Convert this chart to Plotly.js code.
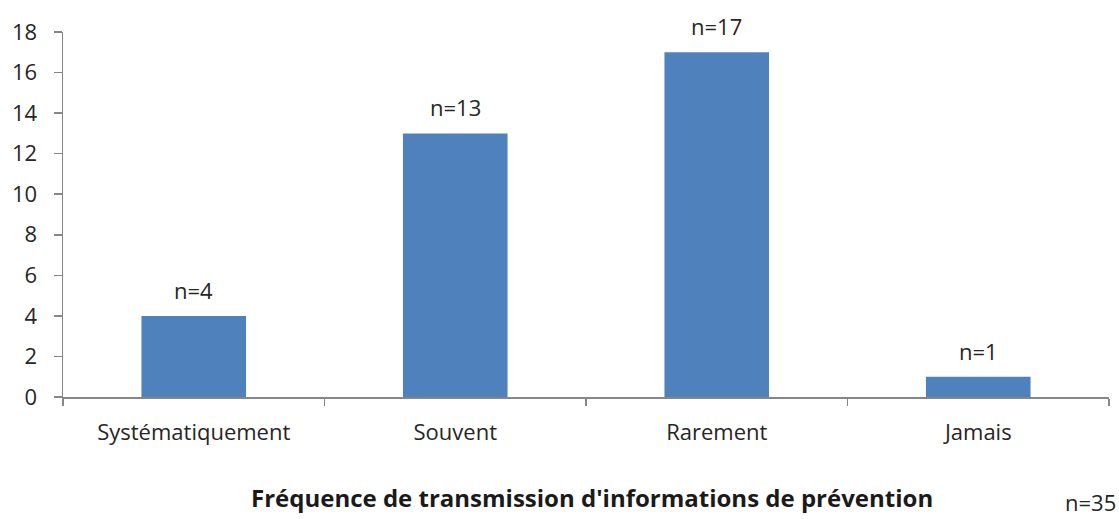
<!DOCTYPE html>
<html>
<head>
<meta charset="utf-8">
<script src="https://cdn.plot.ly/plotly-3.0.1.min.js"></script>
<style>html,body{margin:0;padding:0;background:#fff;}#chart{width:1119px;height:519px;}</style>
</head>
<body>
<div id="chart"></div>
<script>
var categories = ["Systématiquement", "Souvent", "Rarement", "Jamais"];
var counts = [4, 13, 17, 1];
var labels = ["n=4", "n=13", "n=17", "n=1"];
var yTicks = [0, 2, 4, 6, 8, 10, 12, 14, 16, 18];
var xTitle = "Fréquence de transmission d'informations de prévention";
var totalNote = "n=35";

var FONT = "'Open Sans', sans-serif";
var SZ = 22;
var annotations = categories.map(function (c, i) {
  return {x: c, y: counts[i], xref: "x", yref: "y", text: labels[i], showarrow: false,
    yanchor: "bottom", yshift: 9, font: {family: FONT, size: SZ, color: "#262626"}};
});
annotations.push({x: 0.5, y: 20, xref: "paper", yref: "paper", yanchor: "middle", xanchor: "center",
  text: "<b>" + xTitle + "</b>", showarrow: false, font: {family: FONT, size: 24, color: "#1a1a1a"}});
annotations.push({x: 1.0, y: 9, xref: "paper", yref: "paper", yanchor: "bottom", xanchor: "right",
  text: totalNote, showarrow: false, borderpad: 0, font: {family: FONT, size: SZ, color: "#262626"}});

var data = [{type: "bar", x: categories, y: counts, marker: {color: "#4F81BD"}, hoverinfo: "none"}];
var layout = {
  width: 1119, height: 519,
  margin: {l: 63, r: 10, t: 32, b: 122},
  paper_bgcolor: "#fff", plot_bgcolor: "#fff",
  bargap: 0.6,
  showlegend: false,
  font: {family: FONT, size: SZ, color: "#262626"},
  xaxis: {type: "category", showline: true, linecolor: "#868686", linewidth: 1.5,
    ticks: "outside", tickson: "boundaries", ticklen: 7, tickcolor: "#868686", tickwidth: 1.5,
    showgrid: false, zeroline: false, tickfont: {family: FONT, size: SZ, color: "#262626"},
    ticklabelstandoff: 15},
  yaxis: {range: [0, 18], tickvals: yTicks, showline: true, linecolor: "#868686", linewidth: 1.5,
    ticks: "outside", ticklen: 8, tickcolor: "#868686", tickwidth: 1.5, showgrid: false, zeroline: false,
    tickfont: {family: FONT, size: SZ, color: "#262626"}, ticklabelstandoff: 12},
  annotations: annotations
};
var plotH = 519 - 32 - 122;
var plotW = 1119 - 63 - 10;
layout.annotations[4].x = (592 - 63) / plotW;
layout.annotations[4].y = (397 - 498) / plotH;
layout.annotations[5].y = (397 - 518) / plotH;
layout.annotations[5].x = (1117 - 63) / plotW;
Plotly.newPlot("chart", data, layout, {staticPlot: true, displayModeBar: false});
</script>
</body>
</html>
